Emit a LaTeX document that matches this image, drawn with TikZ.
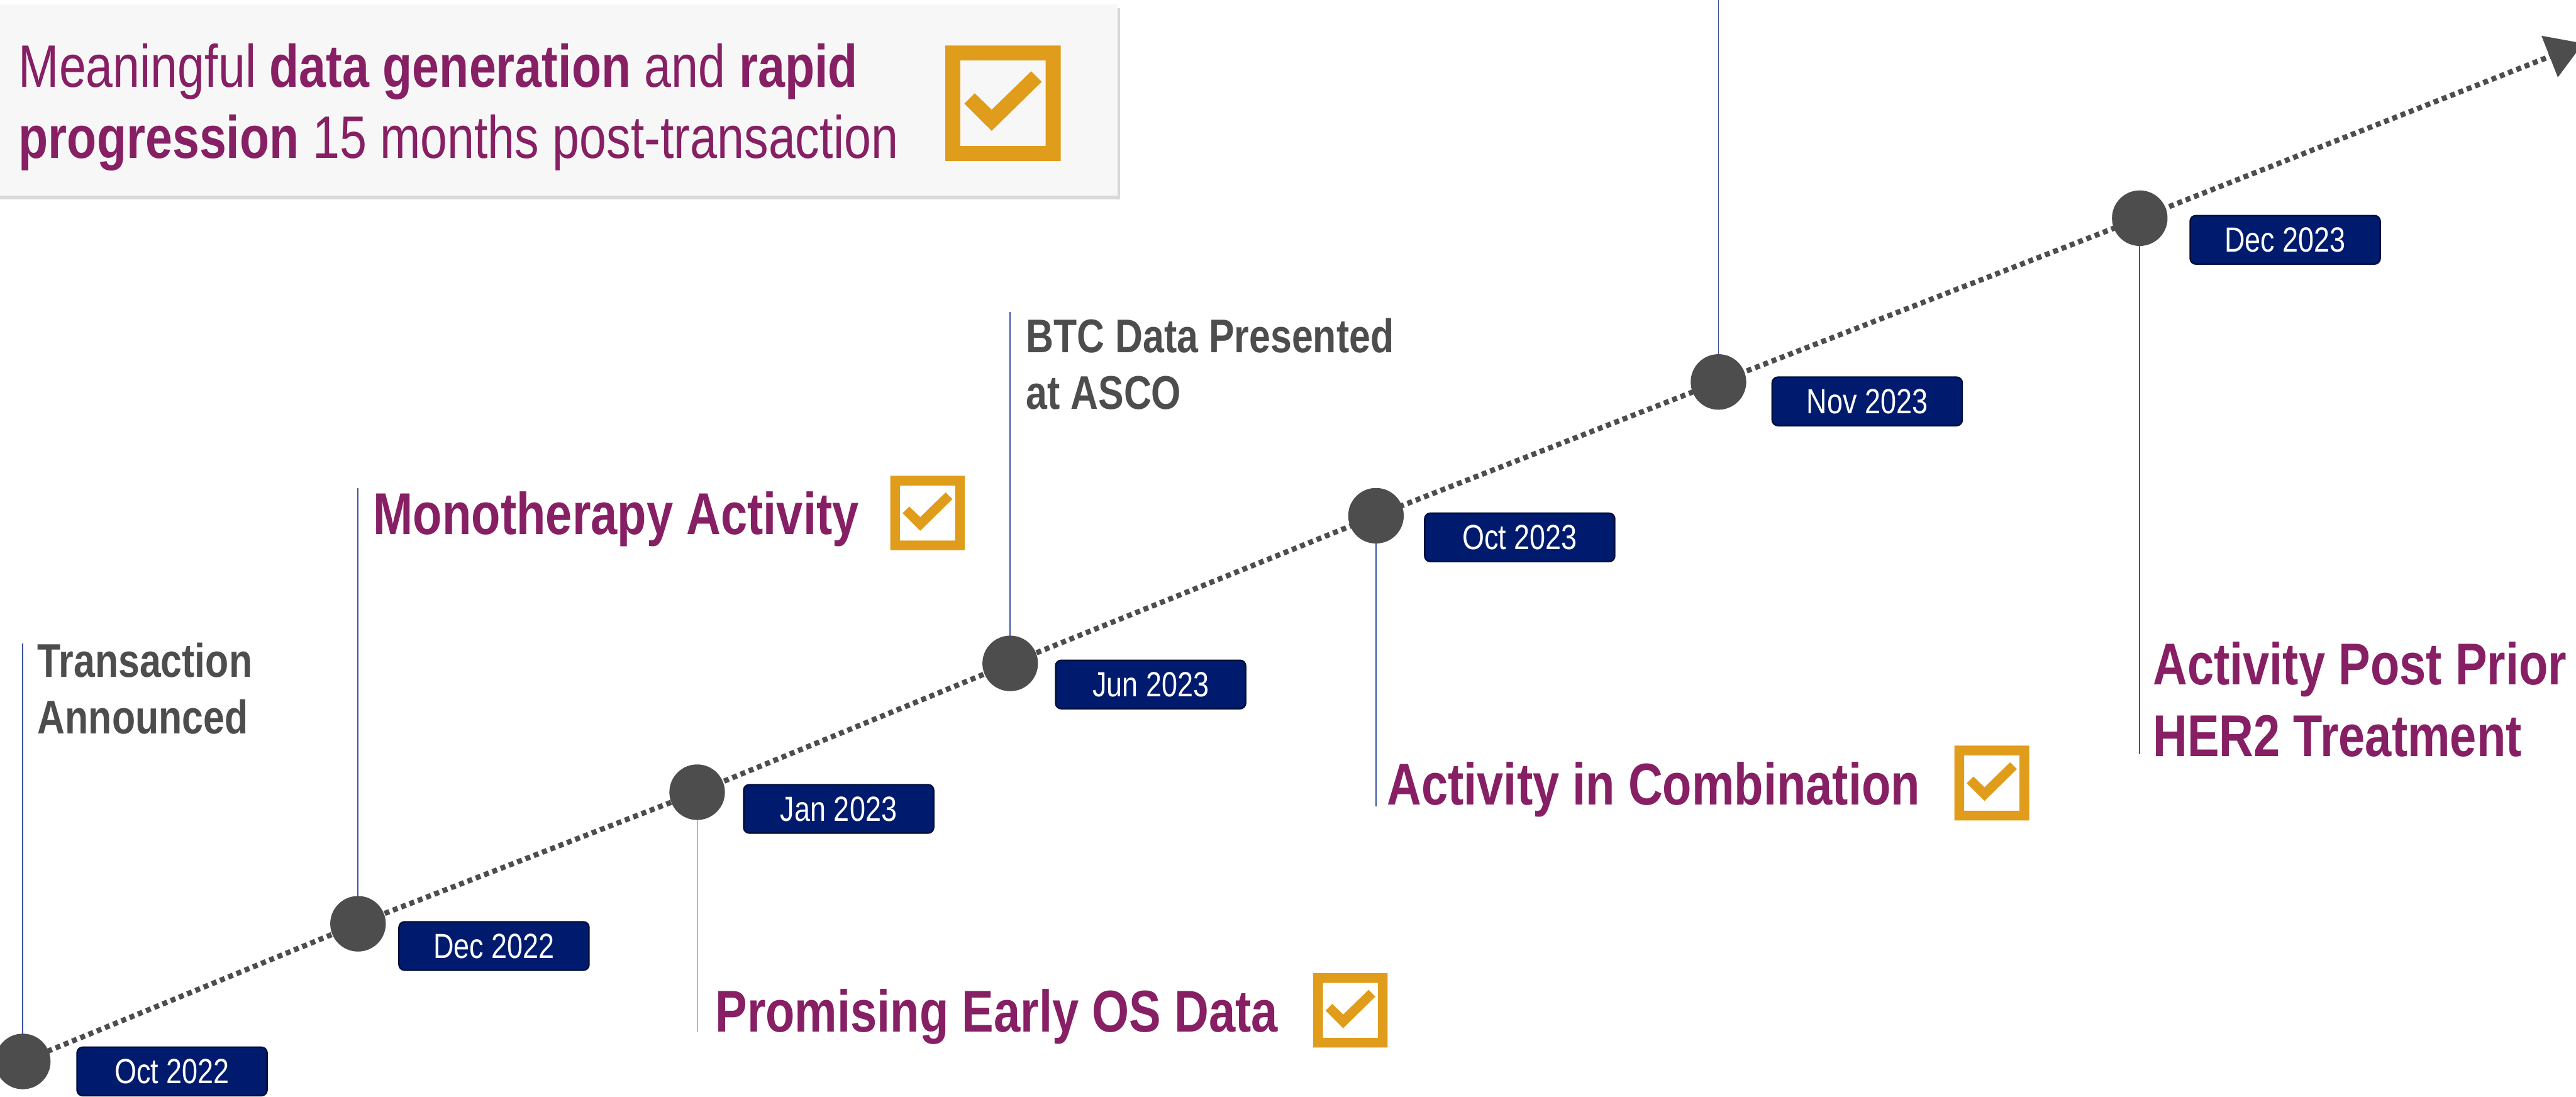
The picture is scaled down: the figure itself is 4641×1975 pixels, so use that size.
\documentclass[tikz,border=0pt]{standalone}
\usepackage{fontspec}
\setmainfont{Liberation Sans}[FakeStretch=0.81]
\usetikzlibrary{arrows.meta,shadows}

\definecolor{plum}{HTML}{861F63}
\definecolor{slate}{HTML}{4D4D4D}
\definecolor{navy}{HTML}{001B6E}
\definecolor{tickorange}{HTML}{E09C1B}
\definecolor{stemblue}{HTML}{3A52A3}
\definecolor{panelgrey}{HTML}{F7F7F7}

\begin{document}
\begin{tikzpicture}[x=0.01cm, y=-0.01cm,
  dot/.style={circle, fill=slate, minimum size=1cm, inner sep=0pt},
  datebox/.style={draw=navy!55!black, line width=0.8pt, fill=navy, text=white,
    rounded corners=0.1cm, minimum width=3.42cm, minimum height=0.87cm, inner sep=0pt,
    font=\fontsize{17.9}{20}\selectfont},
  milestone/.style={anchor=base west, inner sep=0pt, align=left, text=plum,
    font=\bfseries\fontsize{30.2}{36.7}\selectfont},
  event/.style={anchor=base west, inner sep=0pt, align=left, text=slate,
    font=\bfseries\fontsize{24.2}{29}\selectfont},
  stem/.style={stemblue, line width=0.6pt},
  timeline/.style={slate, line width=2.7pt, dash pattern=on 0.09cm off 0.07cm,
    -{Triangle[length=0.65cm, width=0.78cm]}},
  pics/tickbox/.style={code={
    \fill[tickorange, even odd rule] (0,0) rectangle (#1,#1)
      ({0.13*#1},{0.13*#1}) rectangle ({0.87*#1},{0.87*#1});
    \fill[tickorange] ({0.165*#1},{0.503*#1}) -- ({0.255*#1},{0.413*#1})
      -- ({0.402*#1},{0.556*#1}) -- ({0.744*#1},{0.223*#1})
      -- ({0.835*#1},{0.314*#1}) -- ({0.402*#1},{0.739*#1}) -- cycle;
  }}]
  \useasboundingbox (0,0) rectangle (4641,1975);

  % headline panel (two-line nodes sit on the baseline of their last line)
  \fill[panelgrey, drop shadow={shadow xshift=0.05cm, shadow yshift=-0.07cm, opacity=0.3}]
    (-20,8) rectangle (2013,352);
  \node[anchor=base west, inner sep=0pt, align=left, text=plum,
    font=\fontsize{30.7}{36.4}\selectfont] (headline) at (33,285)
    {Meaningful \textbf{data generation} and \textbf{rapid}\\
     \textbf{progression} 15 months post-transaction};
  \pic at (1703,82) {tickbox=208};

  % milestones on the time axis
  \coordinate (p1) at (41,1912);
  \coordinate (p2) at (645,1664);
  \coordinate (p3) at (1256,1427);
  \coordinate (p4) at (1820,1195);
  \coordinate (p5) at (2479,929);
  \coordinate (p6) at (3096,688);
  \coordinate (p7) at (3855,393);
  \coordinate (tip) at (4654,78);
  \draw[timeline] (p1) -- (p2) -- (p3) -- (p4) -- (p5) -- (p6) -- (p7) -- (tip);

  % stems ending at the labels
  \coordinate (s1) at (41,1159);
  \coordinate (s2) at (645,879);
  \coordinate (s3) at (1256,1859);
  \coordinate (s4) at (1820,562);
  \coordinate (s5) at (2479,1452);
  \coordinate (s6) at (3096,-10);
  \coordinate (s7) at (3855,1359);
  \foreach \i in {1,...,7}
    \draw[stem] (p\i) -- (s\i);

  \foreach \i in {1,...,7}
    \node[dot] (c\i) at (p\i) {};

  \node[datebox] (d1) at (310,1930) {Oct 2022};
  \node[datebox] (d2) at (890,1704) {Dec 2022};
  \node[datebox] (d3) at (1511,1457) {Jan 2023};
  \node[datebox] (d4) at (2073,1233) {Jun 2023};
  \node[datebox] (d5) at (2738,968) {Oct 2023};
  \node[datebox] (d6) at (3364,723) {Nov 2023};
  \node[datebox] (d7) at (4117,432) {Dec 2023};

  % labels
  \node[event] (announced) at (67,1322) {Transaction\\Announced};
  \node[milestone] (mono) at (672,963) {Monotherapy Activity};
  \pic at (1604,857) {tickbox=134};
  \node[milestone] (early) at (1288,1859) {Promising Early OS Data};
  \pic at (2366,1753) {tickbox=134};
  \node[event] (asco) at (1848,737) {BTC Data Presented\\at ASCO};
  \node[milestone] (combo) at (2498,1450) {Activity in Combination};
  \pic at (3521,1343) {tickbox=135};
  \node[milestone] (priorher) at (3878,1362) {Activity Post Prior\\HER2 Treatment};
\end{tikzpicture}
\end{document}
